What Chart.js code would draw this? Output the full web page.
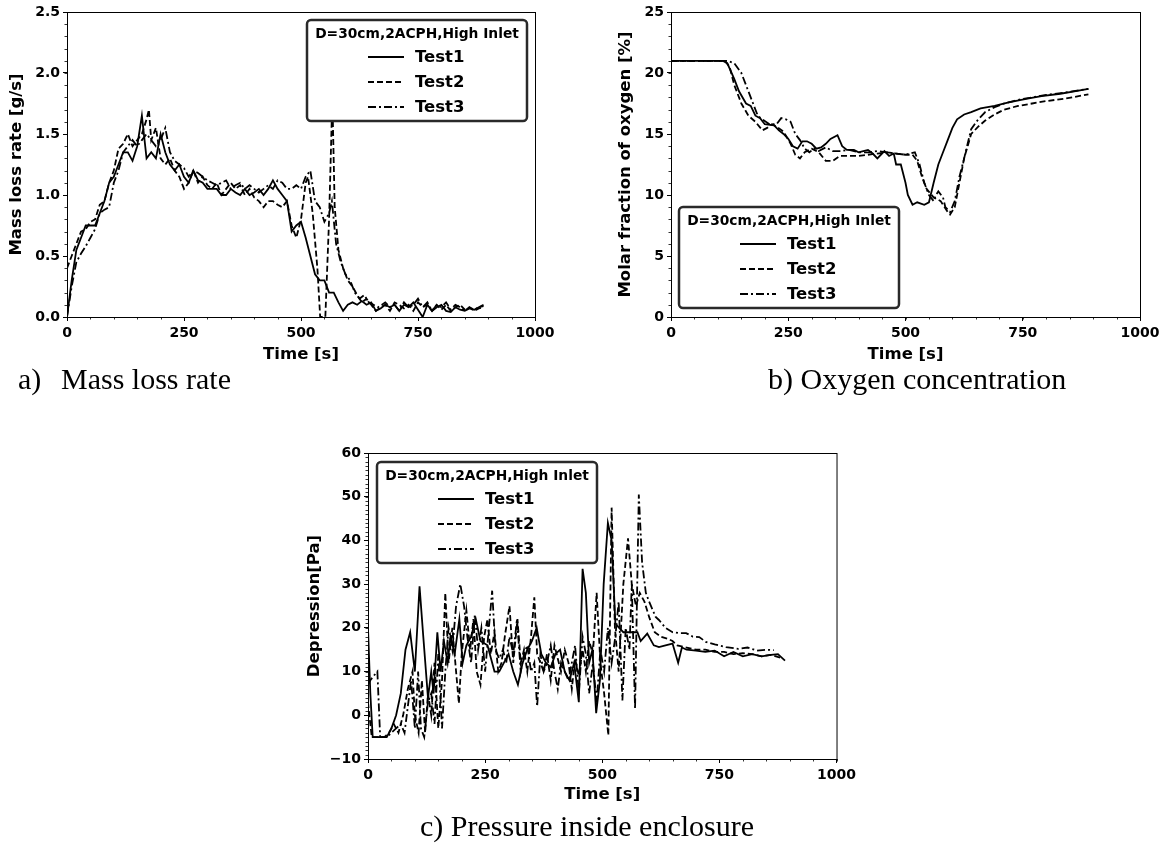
<!DOCTYPE html>
<html>
<head>
<meta charset="utf-8">
<script src="https://cdn.jsdelivr.net/npm/chart.js@4.4.1/dist/chart.umd.min.js"></script>
<style>
  body { margin: 0; background: #fff; width: 1166px; height: 843px; position: relative; overflow: hidden; }
  canvas { position: absolute; }
  .cap { position: absolute; font-family: "Liberation Serif", "Times New Roman", serif; font-size: 30px; line-height: 32px; color: #000; white-space: pre; }
</style>
</head>
<body>
<canvas id="mlr" width="560" height="370" style="left:0;top:0"></canvas>
<canvas id="o2" width="566" height="370" style="left:600px;top:0"></canvas>
<canvas id="pr" width="560" height="370" style="left:300px;top:440px"></canvas>
<div class="cap" style="left:18px;top:363px">a)</div>
<div class="cap" style="left:61px;top:363px">Mass loss rate</div>
<div class="cap" style="left:768px;top:363px">b) Oxygen concentration</div>
<div class="cap" style="left:420px;top:810px">c) Pressure inside enclosure</div>
<script>
// a) mass loss rate [g/s]
const mlrTime1 = [0,10,20,30,40,50,60,70,80,90,100,110,120,130,140,150,160,170,180,190,200,210,220,230,240,250,260,270,280,290,300,310,320,330,340,350,360,370,380,390,400,410,420,430,440,450,460,470,480,490,500,510,520,530,540,550,560,570,580,590,600,610,620,630,640,650,660,670,680,690,700,710,720,730,740,750,760,770,780,790,800,810,820,830,840,850,860,870,880,890];
const mlrTest1 = [0.0,0.3,0.55,0.65,0.75,0.75,0.75,0.85,0.95,1.1,1.15,1.25,1.35,1.35,1.28,1.4,1.65,1.3,1.35,1.3,1.5,1.35,1.25,1.2,1.25,1.15,1.1,1.2,1.12,1.1,1.05,1.05,1.05,1.0,1.0,1.05,1.02,1.0,1.05,1.0,1.02,1.05,1.0,1.05,1.12,1.05,1.0,0.95,0.7,0.75,0.78,0.65,0.5,0.35,0.3,0.3,0.2,0.2,0.12,0.05,0.1,0.12,0.1,0.13,0.1,0.12,0.05,0.07,0.1,0.08,0.1,0.05,0.1,0.08,0.12,0.06,0.0,0.1,0.05,0.08,0.1,0.05,0.04,0.08,0.06,0.05,0.07,0.06,0.08,0.1];
const mlrTime2 = [0,10,20,30,40,50,60,70,80,90,100,110,120,130,140,150,160,170,175,180,190,200,210,220,230,240,250,260,270,280,290,300,310,320,330,340,350,360,370,380,390,400,410,420,430,440,450,460,470,480,490,500,510,515,525,535,541,552,560,567,572,580,590,600,610,620,630,640,650,660,670,680,690,700,710,720,730,740,750,760,770,780,790,800,810,820,830,840,850,860,870,880,890];
const mlrTest2 = [0.4,0.5,0.6,0.7,0.72,0.78,0.8,0.92,0.95,1.1,1.2,1.38,1.42,1.5,1.4,1.45,1.5,1.62,1.7,1.45,1.55,1.3,1.25,1.3,1.2,1.15,1.05,1.1,1.2,1.1,1.15,1.08,1.05,1.1,1.0,1.05,1.1,1.05,1.08,1.0,1.05,0.98,0.95,0.9,0.95,0.95,0.92,0.9,0.95,0.75,0.65,0.8,1.1,1.15,0.85,0.4,0.0,0.0,0.8,1.8,0.9,0.55,0.4,0.3,0.25,0.18,0.12,0.15,0.1,0.05,0.08,0.1,0.05,0.12,0.1,0.07,0.1,0.05,0.12,0.08,0.1,0.05,0.1,0.06,0.1,0.05,0.08,0.1,0.06,0.08,0.05,0.07,0.08];
const mlrTime3 = [0,10,20,30,40,50,60,70,80,90,100,110,120,130,140,150,160,170,180,190,200,210,220,230,240,250,260,270,280,290,300,310,320,330,340,350,360,370,380,390,400,410,420,430,440,450,460,470,480,490,500,510,520,530,540,550,560,566,575,585,595,605,615,625,635,645,655,665,680,690,700,710,720,730,740,750,760,770,780,790,800,810,820,830,840,850,860,870,880,890];
const mlrTest3 = [0.0,0.25,0.45,0.52,0.58,0.65,0.72,0.85,0.88,0.9,1.1,1.2,1.35,1.4,1.45,1.4,1.45,1.5,1.45,1.4,1.45,1.55,1.35,1.28,1.25,1.22,1.15,1.2,1.18,1.15,1.12,1.1,1.08,1.1,1.12,1.05,1.08,1.1,1.05,1.08,1.05,1.02,1.05,1.08,1.05,1.12,1.1,1.05,1.05,1.08,1.05,1.15,1.2,0.95,0.9,0.78,0.85,0.95,0.6,0.45,0.35,0.3,0.2,0.15,0.18,0.12,0.1,0.08,0.12,0.08,0.1,0.05,0.12,0.08,0.1,0.15,0.08,0.12,0.05,0.1,0.08,0.12,0.06,0.1,0.08,0.05,0.08,0.06,0.08,0.09];

// b) molar fraction of oxygen [%]
const o2Time1 = [0,50,100,110,120,135,145,160,170,180,190,200,220,230,240,250,260,270,280,290,300,310,320,330,340,355,365,375,390,400,410,420,430,440,455,465,475,480,490,500,505,515,525,540,550,560,570,580,590,600,610,625,640,660,690,720,760,790,830,860,890];
const o2Test1 = [21,21,21,21,20.8,19.5,18.5,17.5,17.3,16.5,16.3,15.8,15.7,15.3,15,14.6,14,13.8,14.4,14.4,14.2,13.8,13.9,14.2,14.6,14.9,14.0,13.7,13.7,13.5,13.6,13.7,13.4,13.0,13.6,13.2,13.4,12.5,12.5,11.0,10.0,9.2,9.4,9.2,9.4,11.0,12.5,13.5,14.5,15.5,16.2,16.6,16.8,17.1,17.3,17.6,17.9,18.1,18.3,18.5,18.7];
const o2Time2 = [0,50,100,115,125,135,150,165,180,195,205,215,225,240,255,265,275,285,300,315,330,345,360,380,400,420,440,460,480,500,515,525,535,545,560,575,590,595,605,615,625,640,655,670,690,710,740,770,800,840,890];
const o2Test2 = [21,21,21,21,20.5,19,17.5,16.5,16,15.3,15.5,15.8,15.6,15.2,14.2,13.3,13.0,13.5,13.8,13.5,12.8,12.8,13.2,13.2,13.2,13.3,13.4,13.5,13.4,13.3,13.3,12.8,11.5,10.5,9.8,9.5,8.6,8.4,9.0,11.0,13.0,15.0,15.6,16.1,16.6,17.0,17.3,17.5,17.7,17.9,18.25];
const o2Time3 = [0,50,100,120,135,150,165,175,185,195,210,225,235,245,255,265,275,285,295,305,315,330,345,360,380,400,420,440,460,480,500,510,520,530,540,550,560,565,570,580,585,595,605,615,625,640,655,670,690,710,740,770,800,840,890];
const o2Test3 = [21,21,21,21,20.8,20,18.5,17.5,16.5,16.2,15.8,15.8,16.3,16.2,16.0,15.0,14.5,13.8,13.5,13.8,13.6,13.9,13.6,13.6,13.7,13.5,13.5,13.6,13.5,13.4,13.3,13.4,13.5,12.5,11.0,10.0,9.5,10.0,10.3,9.8,9.0,8.6,9.5,11.5,13.0,15.4,16.2,16.8,17.2,17.5,17.8,18.0,18.2,18.4,18.7];

// c) depression [Pa]
const prTime1 = [0,5,10,20,30,40,50,60,70,80,90,100,110,118,128,135,140,148,155,162,170,176,185,195,202,210,220,230,240,255,270,280,290,300,310,320,330,340,350,360,370,380,390,400,410,420,430,440,450,458,465,472,479,487,495,503,512,520,528,536,545,560,575,582,596,610,621,635,650,662,670,680,700,720,740,760,780,800,820,840,860,875,890];
const prTest1 = [20,5,-5,-5,-5,-5,-3,0,5,15,19,10,29.5,18,4,10,5,19,10,17,12,18,14,22,12,16,18,22,17,16,10,10,12,14,10,7,12,15,17,20,14,12,11,14,15,10,8,12,3,33.5,28,12,15,0.5,8,30,44,40,21,20,19,19,19,17,18.7,16,15.6,16,16.4,12,15.5,15,14.8,14.5,14.8,13.5,14.5,13.5,14,13.5,13.8,14,12.5];
const prTime2 = [0,8,15,25,35,45,55,65,75,85,95,100,108,115,122,128,135,142,150,158,165,172,180,188,194,200,210,218,225,232,240,248,255,262,270,278,285,292,302,310,319,326,333,340,348,355,361,368,375,382,390,398,405,412,420,428,435,442,450,458,465,472,480,488,496,504,513,520,527,535,545,555,563,572,580,590,600,612,625,640,650,660,680,700,720,740,760,780,800,820,840,860,880];
const prTest2 = [3,-5,-5,-5,-5,-4,-2,-4,0,6,10,0,-4,8,-4,5,0,12,-3,8,28,12,20,10,2.7,14,24,15,22,10,7,18,22,14,19,10,12,18,25,12,22,12,15,10,18,27,14,12,10,14,8,16,13,10,15,12,6,13,9,15,10,17,14,28,12,5,-4.6,47.5,20,10,30,40.5,30,25,28,26,22.5,19,18,17.5,17,16,15.5,15,15,14.5,14.5,14,14.2,14,13.5,13.8,13.2];
const prTime3 = [0,5,12,20,26,32,40,50,60,70,78,85,92,100,107,113,120,128,135,142,150,158,165,172,180,188,197,205,212,220,228,235,242,250,258,265,272,280,288,295,302,310,318,326,333,340,348,355,361,368,375,382,390,398,405,412,420,428,435,442,450,458,465,472,480,488,496,504,512,520,528,535,543,550,558,563,570,578,585,593,600,614,621,635,650,665,679,693,707,721,740,764,790,810,830,850,866];
const prTest3 = [7,8,9,10,-5,-5,-5,-4,-3,-2,-4,2,8,-3,10,-3,-5,3,5,-2,14,-3,10,20,15,25,30,25,18,12,23,15,20,10,20,28.5,15,13,15,12,18,14,22,10,14,16,10,12,2,14,10,12,16,10,6,12,10,8,12,16,5,18,14,5,12,3,15,10,20,12,18,26,3.4,20,15,30,1.5,50.5,35,28,26,22.5,21.8,20,19,18.8,18.8,18,17.9,16.8,16.2,15.6,15.2,15.5,14.8,15,14.9];

const testNames = ['Test1', 'Test2', 'Test3'];
const legendTitle = 'D=30cm,2ACPH,High Inlet';
const timeTicks = [0, 250, 500, 750, 1000];

const DASHES = [[], [6, 3], [8, 3, 2, 3]];
const FONT = '"DejaVu Sans", sans-serif';

function series(i, times, vals) {
  return {
    label: testNames[i],
    data: times.map((t, k) => ({ x: t, y: vals[k] })),
    borderColor: '#000',
    borderWidth: 1.8,
    borderDash: DASHES[i],
    pointRadius: 0,
    tension: 0,
    fill: false
  };
}

// frame + matplotlib-like minor ticks
const framePlugin = {
  id: 'frame',
  afterDraw(chart, args, opts) {
    const { ctx, chartArea: a } = chart;
    ctx.save();
    ctx.strokeStyle = '#000';
    ctx.lineWidth = 1;
    ctx.strokeRect(a.left + 0.5, a.top + 0.5, a.right - a.left, a.bottom - a.top);
    const xs = chart.scales.x, ys = chart.scales.y;
    ctx.lineWidth = 0.8;
    ctx.beginPath();
    for (let v = xs.min; v <= xs.max + 1e-9; v += opts.x) {
      const px = Math.round(xs.getPixelForValue(v)) + 0.5;
      ctx.moveTo(px, a.bottom);
      ctx.lineTo(px, a.bottom + 2.5);
    }
    for (let k = 0; ys.min + k * opts.y <= ys.max + 1e-9; k++) {
      const py = Math.round(ys.getPixelForValue(ys.min + k * opts.y)) + 0.5;
      ctx.moveTo(a.left, py);
      ctx.lineTo(a.left - 2.5, py);
    }
    ctx.stroke();
    ctx.restore();
  }
};

// boxed legend like matplotlib fancybox
const boxLegend = {
  id: 'boxLegend',
  afterDraw(chart, args, o) {
    const ctx = chart.ctx;
    const x = o.x, y = o.y, w = 220, h = 101;
    ctx.save();
    ctx.beginPath();
    ctx.roundRect(x, y, w, h, 4);
    ctx.fillStyle = '#fff';
    ctx.fill();
    ctx.lineWidth = 2.5;
    ctx.strokeStyle = '#2a2a2a';
    ctx.stroke();
    ctx.fillStyle = '#000';
    ctx.textBaseline = 'middle';
    ctx.textAlign = 'center';
    ctx.font = 'bold 13.8px ' + FONT;
    ctx.fillText(legendTitle, x + w / 2, y + 14);
    ctx.textAlign = 'left';
    ctx.font = 'bold 16.5px ' + FONT;
    chart.data.datasets.forEach((ds, i) => {
      const ly = y + 37 + i * 25;
      ctx.beginPath();
      ctx.setLineDash(ds.borderDash);
      ctx.lineWidth = 1.8;
      ctx.strokeStyle = '#000';
      ctx.moveTo(x + 61, ly);
      ctx.lineTo(x + 97, ly);
      ctx.stroke();
      ctx.setLineDash([]);
      ctx.fillText(ds.label, x + 108, ly + 1);
    });
    ctx.restore();
  }
};

function makeChart(id, sets, o) {
  return new Chart(document.getElementById(id), {
    type: 'line',
    data: { datasets: sets },
    options: {
      responsive: false,
      animation: false,
      layout: { padding: { top: o.top, right: o.right, left: 0, bottom: 0 } },
      plugins: {
        legend: { display: false },
        tooltip: { enabled: false },
        frame: o.minor,
        boxLegend: o.box
      },
      scales: {
        x: {
          type: 'linear', min: 0, max: 1000,
          afterBuildTicks: s => { s.ticks = timeTicks.map(v => ({ value: v })); },
          afterFit: s => { s.height = o.xh; },
          ticks: { color: '#000', maxRotation: 0, padding: 4, font: { family: FONT, weight: 'bold', size: 14 }, callback: v => String(v) },
          grid: { drawOnChartArea: false, drawTicks: true, tickLength: 4, color: '#000' },
          border: { display: true, color: '#000', width: 1 },
          title: { display: true, text: 'Time [s]', color: '#000', padding: { top: 0, bottom: 5 }, font: { family: FONT, weight: 'bold', size: 16.5 } }
        },
        y: {
          type: 'linear', min: o.ymin, max: o.ymax,
          afterFit: s => { s.width = o.yw; },
          ticks: { stepSize: o.ystep, color: '#000', padding: 3, font: { family: FONT, weight: 'bold', size: 14 }, callback: o.fmt },
          grid: { drawOnChartArea: false, drawTicks: true, tickLength: 4, color: '#000' },
          border: { display: true, color: '#000', width: 1 },
          title: { display: true, text: o.ytitle, color: '#000', padding: { top: o.ytp, bottom: 0 }, font: { family: FONT, weight: 'bold', size: 16.5 } }
        }
      }
    },
    plugins: [framePlugin, boxLegend]
  });
}

makeChart('mlr', [
  series(0, mlrTime1, mlrTest1),
  series(1, mlrTime2, mlrTest2),
  series(2, mlrTime3, mlrTest3)
], {
  top: 12, right: 25, xh: 53, yw: 67, ytp: 7,
  ymin: 0, ymax: 2.5, ystep: 0.5, fmt: v => v.toFixed(1),
  ytitle: 'Mass loss rate [g/s]',
  minor: { x: 50, y: 0.1 },
  box: { x: 307, y: 20 }
});

makeChart('o2', [
  series(0, o2Time1, o2Test1),
  series(1, o2Time2, o2Test2),
  series(2, o2Time3, o2Test3)
], {
  top: 12, right: 26, xh: 53, yw: 71, ytp: 16,
  ymin: 0, ymax: 25, ystep: 5, fmt: v => String(v),
  ytitle: 'Molar fraction of oxygen [%]',
  minor: { x: 50, y: 1 },
  box: { x: 79, y: 207 }
});

makeChart('pr', [
  series(0, prTime1, prTest1),
  series(1, prTime2, prTest2),
  series(2, prTime3, prTest3)
], {
  top: 13, right: 22, xh: 51, yw: 68, ytp: 5,
  ymin: -10, ymax: 60, ystep: 10, fmt: v => (v < 0 ? '\u2212' + Math.abs(v) : String(v)),
  ytitle: 'Depression[Pa]',
  minor: { x: 50, y: 1 },
  box: { x: 77, y: 22 }
});
</script>
</body>
</html>
